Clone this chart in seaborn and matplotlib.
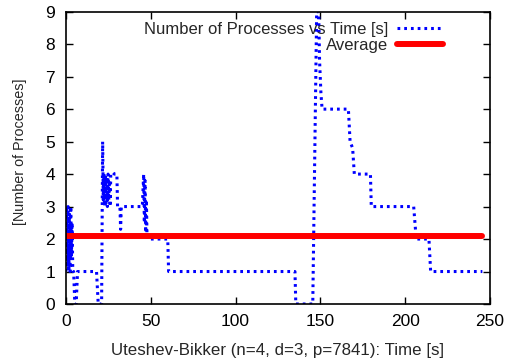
import matplotlib
matplotlib.use("Agg")
import matplotlib.pyplot as plt
import seaborn as sns
import pandas as pd

# ---- data ----
time_s = [0, 0.4, 0.8, 1.2, 1.6, 2.0, 2.4, 2.8, 3.2, 3.6, 4.0, 4.5, 5.2, 6.0, 6.8,
          18.0, 19.0, 21.0, 21.6, 22.0, 22.4, 22.8, 23.2, 23.6, 24.0, 24.4, 24.8,
          25.2, 25.6, 26.0, 26.4, 27.5, 28.5, 30.0, 30.4, 31.8, 32.2, 32.6, 45.0,
          45.8, 46.2, 46.6, 47.0, 47.4, 47.8, 60.0, 60.5, 135.0, 135.5, 145.5,
          147.8, 149.0, 149.5, 150.3, 151.0, 166.5, 167.5, 169.0, 170.0, 179.5,
          180.0, 205.0, 206.5, 214.0, 215.0, 245.5]
processes = [1, 3, 1.2, 3, 1, 2.8, 1, 3, 1.5, 2.5, 1, 1, 0, 0, 1,
             1, 0, 0, 5, 3.2, 4, 3, 4, 3.1, 3.9, 3, 4,
             3.2, 3.8, 3, 4, 4.05, 4, 4, 3, 3, 2.3, 3, 3,
             4, 2.5, 3.8, 2.2, 3.2, 2, 2, 1, 1, 0, 0,
             9, 9, 7.5, 6.5, 6, 6, 5, 4.8, 4, 4,
             3, 3, 2, 2, 1, 1]
avg_time = [0, 245.5]
avg_value = [2.1, 2.1]
x_ticks = [0, 50, 100, 150, 200, 250]
y_ticks = [0, 1, 2, 3, 4, 5, 6, 7, 8, 9]

sns.set_theme(style="ticks")
plt.rcParams["font.family"] = ["Liberation Sans", "DejaVu Sans"]

fig = plt.figure(figsize=(5.07, 3.60), dpi=100)
ax = fig.add_axes([66 / 507, 1 - 304 / 360, (490 - 66) / 507, (304 - 11.7) / 360])

df = pd.DataFrame({"t": time_s, "n": processes})
dfa = pd.DataFrame({"t": avg_time, "n": avg_value})

sns.lineplot(data=df, x="t", y="n", ax=ax, color="#0000ff", linewidth=2.2,
             estimator=None, sort=False, label="Number of Processes vs Time [s]",
             linestyle=(0, (0.9, 1.3)), dash_capstyle="butt")
sns.lineplot(data=dfa, x="t", y="n", ax=ax, color="#ff0000", linewidth=4.3,
             estimator=None, sort=False, label="Average")

ax.set_xlim(0, 250)
ax.set_ylim(0, 9)
ax.set_xticks(x_ticks)
ax.set_yticks(y_ticks)
ax.tick_params(direction="in", length=5, width=1, top=True, right=True,
               labelsize=12.5, colors="black")
ax.tick_params(axis="x", pad=7.5)
ax.tick_params(axis="y", pad=8)
for s in ax.spines.values():
    s.set_linewidth(1.2)
    s.set_color("black")
ax.set_xlabel("Uteshev-Bikker (n=4, d=3, p=7841): Time [s]", fontsize=12.2, labelpad=9.5)
ax.set_ylabel("[Number of Processes]", fontsize=10.4)
ax.yaxis.set_label_coords(-0.092, 0.52)

leg = ax.legend(loc="upper right", bbox_to_anchor=((443 - 66) / 424, (304 - 22) / 292.3),
                frameon=False, markerfirst=False, fontsize=12, handlelength=2.75,
                handletextpad=0.55, labelspacing=0.08, borderpad=0, borderaxespad=0)

fig.savefig("out.png", dpi=100)
